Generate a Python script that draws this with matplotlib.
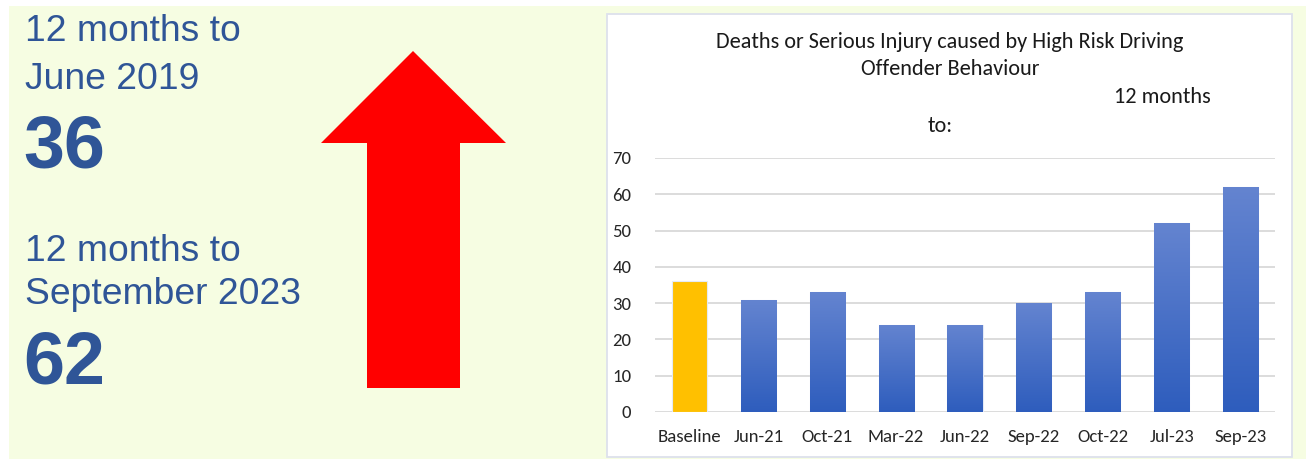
import matplotlib
matplotlib.use("Agg")
import matplotlib.pyplot as plt
import numpy as np
from matplotlib.patches import Rectangle, Polygon
from matplotlib.colors import LinearSegmentedColormap

# Data
categories = ["Baseline", "Jun-21", "Oct-21", "Mar-22", "Jun-22",
              "Sep-22", "Oct-22", "Jul-23", "Sep-23"]
values = [36, 31, 33, 24, 24, 30, 33, 52, 62]
y_ticks = [0, 10, 20, 30, 40, 50, 60, 70]

baseline_label = ["12 months to", "June 2019"]
baseline_value = values[0]
latest_label = ["12 months to", "September 2023"]
latest_value = values[-1]

W, H = 1306, 459
DPI = 100
fig = plt.figure(figsize=(W / DPI, H / DPI), dpi=DPI, facecolor="white")

def fx(px):
    return px / W

def fy(py):
    return 1 - py / H

# Slide background panel
fig.patches.append(Rectangle((fx(9), 0), 1 - fx(9), fy(6), transform=fig.transFigure,
                             facecolor="#F6FDE2", edgecolor="none", zorder=0))

# Headline figures on the left
text_color = "#2F5597"
left_font = ["Liberation Sans", "DejaVu Sans"]
small = 26.8
big = 53
fig.text(fx(25), fy(41), baseline_label[0], fontsize=small, color=text_color,
         family=left_font, va="baseline", ha="left")
fig.text(fx(25), fy(89), baseline_label[1], fontsize=small, color=text_color,
         family=left_font, va="baseline", ha="left")
fig.text(fx(23), fy(168), f"{baseline_value}", fontsize=big, color=text_color,
         family=left_font, weight="bold", va="baseline", ha="left")
fig.text(fx(25), fy(261), latest_label[0], fontsize=small, color=text_color,
         family=left_font, va="baseline", ha="left")
fig.text(fx(25), fy(304), latest_label[1], fontsize=small, color=text_color,
         family=left_font, va="baseline", ha="left")
fig.text(fx(23), fy(383), f"{latest_value}", fontsize=big, color=text_color,
         family=left_font, weight="bold", va="baseline", ha="left")

# Big red upward arrow
arrow_pts = [(413, 51), (506, 143), (460, 143), (460, 388),
             (367, 388), (367, 143), (321, 143)]
fig.patches.append(Polygon([(fx(x), fy(y)) for x, y in arrow_pts], closed=True,
                           transform=fig.transFigure, facecolor="#FF0000",
                           edgecolor="none", zorder=1))

# White chart box
fig.patches.append(Rectangle((fx(607), fy(457)), fx(1292 - 607), (457 - 14) / H,
                             transform=fig.transFigure, facecolor="white",
                             edgecolor="#DDE1EC", linewidth=1.3, zorder=1))

chart_font = ["Carlito", "Lato", "DejaVu Sans"]
title_color = "#1A1A1A"
title_size = 16
fig.text(fx(950), fy(42), "Deaths or Serious Injury caused by High Risk Driving",
         fontsize=title_size, color=title_color, family=chart_font, ha="center", va="center")
fig.text(fx(950), fy(69), "Offender Behaviour",
         fontsize=title_size, color=title_color, family=chart_font, ha="center", va="center")
fig.text(fx(1162), fy(97), "12 months",
         fontsize=title_size, color=title_color, family=chart_font, ha="center", va="center")
fig.text(fx(940), fy(126), "to:",
         fontsize=title_size, color=title_color, family=chart_font, ha="center", va="center")

# Bar chart
ax = fig.add_axes([fx(655), fy(412), fx(1275 - 655), (412 - 158) / H])
ax.set_facecolor("none")
ax.set_zorder(2)
x = np.arange(len(categories))
bar_w = 0.51
bar_colors = ["#FFC000"] + ["#4472C4"] * (len(categories) - 1)
bars = ax.bar(x, values, width=bar_w, color=bar_colors, edgecolor="#E4EAF6",
              linewidth=0.8, zorder=3)

# Vertical gradient for the blue bars
grad = LinearSegmentedColormap.from_list("blue_grad", ["#2E5DBD", "#6484D0"])
g = np.linspace(0, 1, 256).reshape(-1, 1)
for b in bars[1:]:
    x0, w, h = b.get_x(), b.get_width(), b.get_height()
    im = ax.imshow(g, cmap=grad, origin="lower", aspect="auto",
                   extent=[x0, x0 + w, 0, h], zorder=3.5, interpolation="bilinear")
    im.set_clip_path(b)

ax.set_xlim(-0.5, len(categories) - 0.5)
ax.set_ylim(0, 70)
ax.set_yticks(y_ticks)
ax.set_xticks(x)
ax.set_xticklabels(categories)
ax.grid(axis="y", color="#D9D9D9", linewidth=1.3, zorder=0)
ax.set_axisbelow(True)
for s in ax.spines.values():
    s.set_visible(False)
ax.tick_params(axis="both", length=0, labelsize=13.5, labelcolor="#262626")
ax.tick_params(axis="y", pad=17)
ax.tick_params(axis="x", pad=12)
for lbl in ax.get_xticklabels() + ax.get_yticklabels():
    lbl.set_family(chart_font)

fig.savefig("out.png", dpi=DPI, facecolor="white")
